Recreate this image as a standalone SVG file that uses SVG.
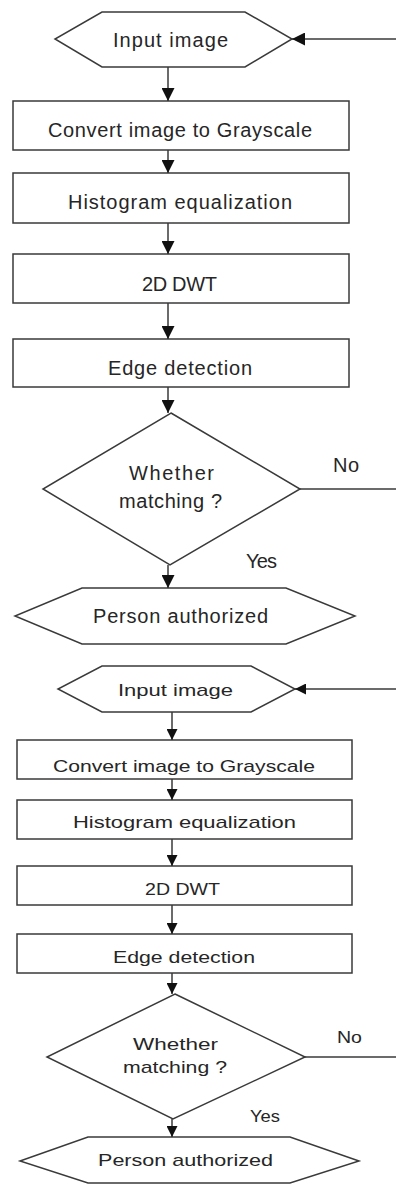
<svg xmlns="http://www.w3.org/2000/svg" width="396" height="1184" viewBox="0 0 396 1184">
  <defs>
    <style>
      .shape { fill: #ffffff; stroke: #3a3a3a; stroke-width: 1.5; }
      .line { fill: none; stroke: #3a3a3a; stroke-width: 1.5; }
      .big { marker-end: url(#head-big); }
      .small { marker-end: url(#head-small); }
      text { font-family: "Liberation Sans", Arial, sans-serif; fill: #262626; }
      .t1 { font-size: 20px; }
      .t2 { font-size: 17px; }
    </style>
    <marker id="head-big" viewBox="0 0 10 10" refX="10" refY="5" markerWidth="13" markerHeight="13" markerUnits="userSpaceOnUse" orient="auto">
      <path d="M0,0 L10,5 L0,10 z" fill="#111111"/>
    </marker>
    <marker id="head-small" viewBox="0 0 10 10" refX="10" refY="5" markerWidth="11" markerHeight="11" markerUnits="userSpaceOnUse" orient="auto">
      <path d="M0,0 L10,5 L0,10 z" fill="#111111"/>
    </marker>
  </defs>
  <rect width="396" height="1184" fill="#ffffff"/>

  <!-- first flowchart -->
  <g id="input1">
    <polygon class="shape" points="102,12 245,12 292,39 245,67 102,67 55,39"/>
    <text class="t1" x="113" y="47" textLength="115" lengthAdjust="spacing">Input image</text>
  </g>
  <g id="gray1">
    <rect class="shape" x="13" y="101" width="336" height="49"/>
    <text class="t1" x="48" y="137" textLength="264" lengthAdjust="spacing">Convert image to Grayscale</text>
  </g>
  <g id="hist1">
    <rect class="shape" x="13" y="173" width="336" height="50"/>
    <text class="t1" x="68" y="209" textLength="224" lengthAdjust="spacing">Histogram equalization</text>
  </g>
  <g id="dwt1">
    <rect class="shape" x="13" y="254" width="336" height="49"/>
    <text class="t1" x="142" y="291" textLength="75" lengthAdjust="spacing">2D DWT</text>
  </g>
  <g id="edge1">
    <rect class="shape" x="13" y="339" width="336" height="48"/>
    <text class="t1" x="108" y="375" textLength="144" lengthAdjust="spacing">Edge detection</text>
  </g>
  <g id="match1">
    <polygon class="shape" points="171,413 300,489 170,565 43,489"/>
    <text class="t1" x="129" y="480" textLength="85" lengthAdjust="spacing">Whether</text>
    <text class="t1" x="119" y="508" textLength="103" lengthAdjust="spacing">matching ?</text>
  </g>
  <g id="auth1">
    <polygon class="shape" points="82,588 286,588 355,616 286,644 82,644 15,616"/>
    <text class="t1" x="93" y="623" textLength="175" lengthAdjust="spacing">Person authorized</text>
  </g>

  <!-- second flowchart: same steps, glyphs drawn wider -->
  <g id="input2">
    <polygon class="shape" points="102,666 251,666 295,689 251,712 102,712 58,689"/>
    <text class="t2" x="118" y="696" textLength="115" lengthAdjust="spacingAndGlyphs">Input image</text>
  </g>
  <g id="gray2">
    <rect class="shape" x="17" y="740" width="335" height="39"/>
    <text class="t2" x="53" y="772" textLength="262" lengthAdjust="spacingAndGlyphs">Convert image to Grayscale</text>
  </g>
  <g id="hist2">
    <rect class="shape" x="17" y="800" width="335" height="39"/>
    <text class="t2" x="73" y="828" textLength="223" lengthAdjust="spacingAndGlyphs">Histogram equalization</text>
  </g>
  <g id="dwt2">
    <rect class="shape" x="17" y="866" width="335" height="39"/>
    <text class="t2" x="145" y="895" textLength="75" lengthAdjust="spacingAndGlyphs">2D DWT</text>
  </g>
  <g id="edge2">
    <rect class="shape" x="17" y="934" width="335" height="39"/>
    <text class="t2" x="113" y="963" textLength="142" lengthAdjust="spacingAndGlyphs">Edge detection</text>
  </g>
  <g id="match2">
    <polygon class="shape" points="175,994 305,1057 173,1119 47,1057"/>
    <text class="t2" x="133" y="1050" textLength="85" lengthAdjust="spacingAndGlyphs">Whether</text>
    <text class="t2" x="123" y="1073" textLength="104" lengthAdjust="spacingAndGlyphs">matching ?</text>
  </g>
  <g id="auth2">
    <polygon class="shape" points="88,1137 290,1137 359,1161 290,1183 88,1183 20,1161"/>
    <text class="t2" x="98" y="1166" textLength="175" lengthAdjust="spacingAndGlyphs">Person authorized</text>
  </g>

  <!-- connectors -->
  <g id="connectors">
    <line class="line big" x1="396" y1="39" x2="292" y2="39"/>
    <line class="line big" x1="168" y1="67" x2="168" y2="101"/>
    <line class="line big" x1="168" y1="150" x2="168" y2="173"/>
    <line class="line big" x1="168" y1="223" x2="168" y2="254"/>
    <line class="line big" x1="168" y1="303" x2="168" y2="339"/>
    <line class="line big" x1="168" y1="387" x2="168" y2="413"/>
    <line class="line" x1="300" y1="489" x2="396" y2="489"/>
    <line class="line big" x1="168" y1="565" x2="168" y2="588"/>
    <text class="t1" x="333" y="472" textLength="26" lengthAdjust="spacing">No</text>
    <text class="t1" x="246" y="568" textLength="31" lengthAdjust="spacing">Yes</text>

    <line class="line small" x1="396" y1="689" x2="295" y2="689"/>
    <line class="line small" x1="172" y1="712" x2="172" y2="740"/>
    <line class="line small" x1="172" y1="779" x2="172" y2="800"/>
    <line class="line small" x1="172" y1="839" x2="172" y2="866"/>
    <line class="line small" x1="172" y1="905" x2="172" y2="934"/>
    <line class="line small" x1="172" y1="973" x2="172" y2="994"/>
    <line class="line" x1="305" y1="1057" x2="396" y2="1057"/>
    <line class="line small" x1="172" y1="1119" x2="172" y2="1137"/>
    <text class="t2" x="337" y="1043" textLength="25" lengthAdjust="spacingAndGlyphs">No</text>
    <text class="t2" x="250" y="1122" textLength="30" lengthAdjust="spacingAndGlyphs">Yes</text>
  </g>
</svg>
